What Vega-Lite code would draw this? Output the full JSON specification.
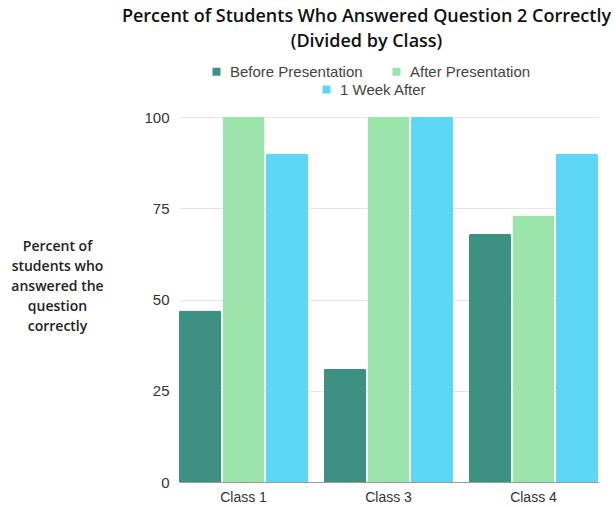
{
  "$schema": "https://vega.github.io/schema/vega-lite/v6.json",
  "width": 419,
  "height": 365,
  "autosize": {"type": "none"},
  "padding": {"left": 179, "top": 117, "right": 18, "bottom": 25},
  "background": "white",
  "title": {
    "text": ["Percent of Students Who Answered Question 2 Correctly", "(Divided by Class)"],
    "anchor": "middle",
    "frame": "group",
    "dx": -22,
    "font": "Open Sans",
    "fontSize": 18,
    "fontWeight": 600,
    "color": "#111111",
    "lineHeight": 25,
    "offset": 13
  },
  "data": {
    "values": [
      {"Class": "Class 1", "Series": "Before Presentation", "Value": 47},
      {"Class": "Class 1", "Series": "After Presentation", "Value": 100},
      {"Class": "Class 1", "Series": "1 Week After", "Value": 90},
      {"Class": "Class 3", "Series": "Before Presentation", "Value": 31},
      {"Class": "Class 3", "Series": "After Presentation", "Value": 100},
      {"Class": "Class 3", "Series": "1 Week After", "Value": 100},
      {"Class": "Class 4", "Series": "Before Presentation", "Value": 68},
      {"Class": "Class 4", "Series": "After Presentation", "Value": 73},
      {"Class": "Class 4", "Series": "1 Week After", "Value": 90}
    ]
  },
  "encoding": {
    "x": {
      "field": "Class",
      "type": "nominal",
      "scale": {"paddingInner": 0.11, "paddingOuter": 0},
      "axis": {
        "title": null,
        "labelAngle": 0,
        "labelFont": "Liberation Sans",
        "labelFontSize": 14,
        "labelColor": "#333333",
        "labelPadding": 8,
        "ticks": false,
        "domainColor": "#999999",
        "grid": false
      }
    },
    "xOffset": {
      "field": "Series",
      "type": "nominal",
      "scale": {"domain": ["Before Presentation", "After Presentation", "1 Week After"], "paddingInner": 0.03, "paddingOuter": 0}
    },
    "y": {
      "field": "Value",
      "type": "quantitative",
      "scale": {"domain": [0, 100], "nice": false},
      "axis": {
        "values": [0, 25, 50, 75, 100],
        "title": ["Percent of", "students who", "answered the", "question", "correctly"],
        "titleAngle": 0,
        "titleAlign": "center",
        "titleBaseline": "middle",
        "titleX": -122,
        "titleY": 129,
        "titleFont": "Open Sans",
        "titleFontSize": 14,
        "titleFontWeight": 600,
        "titleColor": "#222222",
        "titleLineHeight": 20,
        "labelFont": "Liberation Sans",
        "labelFontSize": 15,
        "labelColor": "#333333",
        "labelPadding": 10,
        "ticks": false,
        "domain": false,
        "gridColor": "#e6e6e6"
      }
    }
  },
  "layer": [
    {
      "transform": [{"filter": "datum.Series !== '1 Week After'"}],
      "mark": {"type": "bar", "cornerRadiusTopLeft": 2, "cornerRadiusTopRight": 2},
      "encoding": {
        "color": {
          "field": "Series",
          "type": "nominal",
          "scale": {"domain": ["Before Presentation", "After Presentation"], "range": ["#3c9182", "#9be4ab"]},
          "legend": {
            "title": null,
            "orient": "none",
            "direction": "horizontal",
            "legendX": 30,
            "legendY": -53,
            "symbolType": "square",
            "symbolSize": 64,
            "symbolStrokeWidth": 0,
            "labelFont": "Liberation Sans",
            "labelFontSize": 15,
            "labelColor": "#444444",
            "labelOffset": 6,
            "columnPadding": 26
          }
        }
      }
    },
    {
      "transform": [{"filter": "datum.Series === '1 Week After'"}],
      "mark": {"type": "bar", "cornerRadiusTopLeft": 2, "cornerRadiusTopRight": 2},
      "encoding": {
        "color": {
          "field": "Series",
          "type": "nominal",
          "scale": {"domain": ["1 Week After"], "range": ["#5ed6f5"]},
          "legend": {
            "title": null,
            "orient": "none",
            "direction": "horizontal",
            "legendX": 140,
            "legendY": -35,
            "symbolType": "square",
            "symbolSize": 64,
            "symbolStrokeWidth": 0,
            "labelFont": "Liberation Sans",
            "labelFontSize": 15,
            "labelColor": "#444444",
            "labelOffset": 6
          }
        }
      }
    }
  ],
  "resolve": {"scale": {"color": "independent"}, "legend": {"color": "independent"}},
  "config": {"view": {"stroke": null}}
}
